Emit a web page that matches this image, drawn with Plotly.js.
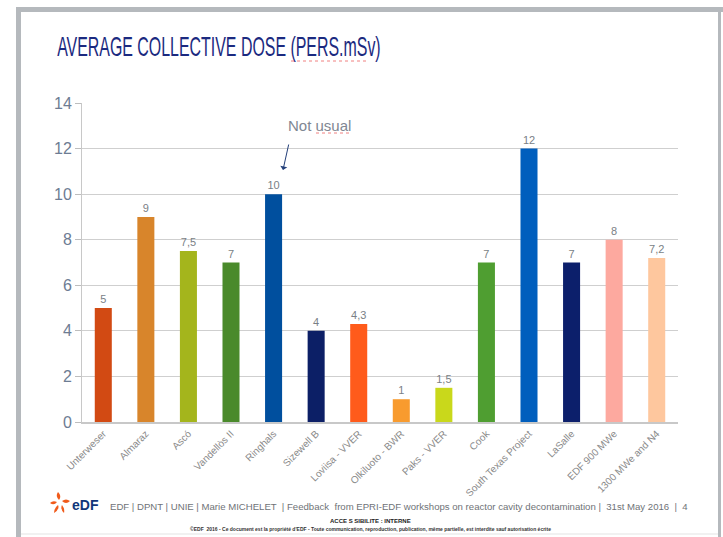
<!DOCTYPE html>
<html>
<head>
<meta charset="utf-8">
<script src="https://cdn.plot.ly/plotly-3.0.1.min.js"></script>
<style>
html,body{margin:0;padding:0;background:#fff;}
#chart{width:723px;height:537px;}
</style>
</head>
<body>
<div id="chart"></div>
<script>
// ---- data ----
const categories = ["Unterweser","Almaraz","Ascó","Vandellòs II","Ringhals","Sizewell B","Loviisa - VVER","Olkiluoto - BWR","Paks - VVER","Cook","South Texas Project","LaSalle","EDF 900 MWe","1300 MWe and N4"];
const doses = [5, 9, 7.5, 7, 10, 4, 4.3, 1, 1.5, 7, 12, 7, 8, 7.2];
const barLabels = ["5","9","7,5","7","10","4","4,3","1","1,5","7","12","7","8","7,2"];
const yTicks = [0,2,4,6,8,10,12,14];
const barColors = ["#d24a13","#d8852b","#a4b51c","#4a8a2b","#004f9e","#0c1f66","#ff5b1b","#f89b2e","#c9d81b","#4f9e31","#005ebd","#0c1f6b","#fda99f","#fec79e"];

// ---- geometry helpers (pixel -> paper) ----
const W = 723, H = 537;
const mL = 82, mR = 45, mT = 103, mB = 115;
const pw = W - mL - mR, ph = H - mT - mB;
const X = px => (px - mL) / pw;
const Y = py => (H - mB - py) / ph;

const shapes = [
  // slide frame
  {type:'rect', xref:'paper', yref:'paper', x0:X(16), x1:X(723), y0:Y(7), y1:Y(12), fillcolor:'#b5b9bd', line:{width:0}, layer:'below'},
  {type:'rect', xref:'paper', yref:'paper', x0:X(16), x1:X(21), y0:Y(7), y1:Y(537), fillcolor:'#b5b9bd', line:{width:0}, layer:'below'},
  {type:'rect', xref:'paper', yref:'paper', x0:X(718), x1:X(721), y0:Y(10), y1:Y(537), fillcolor:'#b5b9bd', line:{width:0}, layer:'below'},
  {type:'line', xref:'paper', yref:'paper', x0:X(21), x1:X(718), y0:Y(534), y1:Y(534), line:{color:'#e3e3e3', width:1}},
  // EDF logo petals
  {type:'path', xref:'paper', yref:'paper', path:`M ${X(59)},${Y(500)} Q ${X(55)},${Y(496)} ${X(58)},${Y(492)} Q ${X(62)},${Y(496)} ${X(59)},${Y(500)} Z`, fillcolor:'#f05a1a', line:{width:0}},
  {type:'path', xref:'paper', yref:'paper', path:`M ${X(57)},${Y(502)} Q ${X(53)},${Y(500)} ${X(50)},${Y(503)} Q ${X(54)},${Y(506)} ${X(57)},${Y(502)} Z`, fillcolor:'#f05a1a', line:{width:0}},
  {type:'path', xref:'paper', yref:'paper', path:`M ${X(58)},${Y(505)} Q ${X(54)},${Y(508)} ${X(54)},${Y(513)} Q ${X(60)},${Y(509)} ${X(58)},${Y(505)} Z`, fillcolor:'#f05a1a', line:{width:0}},
  {type:'path', xref:'paper', yref:'paper', path:`M ${X(62)},${Y(505)} Q ${X(65)},${Y(509)} ${X(64)},${Y(513)} Q ${X(60)},${Y(509)} ${X(62)},${Y(505)} Z`, fillcolor:'#f05a1a', line:{width:0}},
  {type:'path', xref:'paper', yref:'paper', path:`M ${X(62)},${Y(501)} Q ${X(66)},${Y(498)} ${X(70)},${Y(501)} Q ${X(66)},${Y(505)} ${X(62)},${Y(501)} Z`, fillcolor:'#f05a1a', line:{width:0}},
  // red squiggle-ish underlines (spell check marks)
  {type:'line', xref:'paper', yref:'paper', x0:X(291), x1:X(368), y0:Y(61), y1:Y(61), line:{color:'#f08080', width:1, dash:'dot'}},
  {type:'line', xref:'paper', yref:'paper', x0:X(316), x1:X(352), y0:Y(133), y1:Y(133), line:{color:'#f08080', width:1, dash:'dot'}}
];

const annotations = [
  {xref:'paper', yref:'paper', x:X(55), y:Y(47), xanchor:'left', yanchor:'middle', showarrow:false,
   text:'AVERAGE COLLECTIVE DOSE (PERS.mSv)', font:{family:'Liberation Sans, Arial', size:27, color:'#1b2a80'}},
  {xref:'paper', yref:'paper', x:X(286), y:Y(125), xanchor:'left', yanchor:'middle', showarrow:false,
   text:'Not usual', font:{family:'Liberation Sans, Arial', size:15, color:'#7f8793'}},
  {xref:'paper', yref:'paper', x:X(283), y:Y(170), ax:X(289), ay:Y(143), axref:'paper', ayref:'paper',
   showarrow:true, arrowhead:1, arrowsize:1.2, arrowwidth:1, arrowcolor:'#24407a', text:''},
  {xref:'paper', yref:'paper', x:X(70), y:Y(505), xanchor:'left', yanchor:'middle', showarrow:false,
   text:'<b>eDF</b>', font:{family:'Liberation Sans, Arial', size:14, color:'#10367a'}},
  {xref:'paper', yref:'paper', x:X(108), y:Y(506), xanchor:'left', yanchor:'middle', showarrow:false,
   text:'EDF | DPNT | UNIE | Marie MICHELET  | Feedback  from EPRI-EDF workshops on reactor cavity decontamination |  31st May 2016  |  4',
   font:{family:'Liberation Sans, Arial', size:9.6, color:'#6f7377'}},
  {xref:'paper', yref:'paper', x:X(370), y:Y(521), xanchor:'center', yanchor:'middle', showarrow:false,
   text:'<b>ACCE S SIBILITE : INTERNE</b>', font:{family:'Liberation Sans, Arial', size:6, color:'#222'}},
  {xref:'paper', yref:'paper', x:X(370), y:Y(529), xanchor:'center', yanchor:'middle', showarrow:false,
   text:'<b>©EDF  2016 - Ce document est la propriété d\'EDF - Toute communication, reproduction, publication, même partielle, est interdite sauf autorisation écrite</b>',
   font:{family:'Liberation Sans, Arial', size:5, color:'#333'}}
];

const trace = {
  type:'bar', x:categories, y:doses, marker:{color:barColors, line:{width:0}},
  text:barLabels, textposition:'outside', cliponaxis:false,
  textfont:{family:'Liberation Sans, Arial', size:11, color:'#7a7f86'},
  hoverinfo:'x+y'
};

const layout = {
  width:W, height:H,
  margin:{l:mL, r:mR, t:mT, b:mB, pad:0},
  paper_bgcolor:'#ffffff', plot_bgcolor:'#ffffff',
  showlegend:false, bargap:0.6,
  xaxis:{type:'category', tickangle:-45, showgrid:false, showline:true, linecolor:'#c8c8c8', linewidth:2,
         ticks:'', tickfont:{family:'Liberation Sans, Arial', size:10, color:'#8a8a8a'}, automargin:false},
  yaxis:{range:[0,14], tickvals:yTicks, ticktext:yTicks.map(String), showgrid:true, gridcolor:'#cfcfcf', gridwidth:1,
         showline:true, linecolor:'#c8c8c8', linewidth:1, ticks:'outside', ticklen:6, tickcolor:'#bdbdbd',
         zeroline:false, tickfont:{family:'Liberation Sans, Arial', size:16, color:'#6d7c93'}, automargin:false},
  shapes:shapes, annotations:annotations
};

Plotly.newPlot('chart', [trace], layout, {displayModeBar:false, staticPlot:true}).then(gd => {
  // the slide title is set in a condensed face: squeeze it horizontally
  const t = gd.querySelector('.annotation text');
  if (t) {
    t.style.transformBox = 'fill-box';
    t.style.transformOrigin = 'left center';
    t.style.transform = 'scaleX(0.59)';
  }
});
</script>
</body>
</html>
